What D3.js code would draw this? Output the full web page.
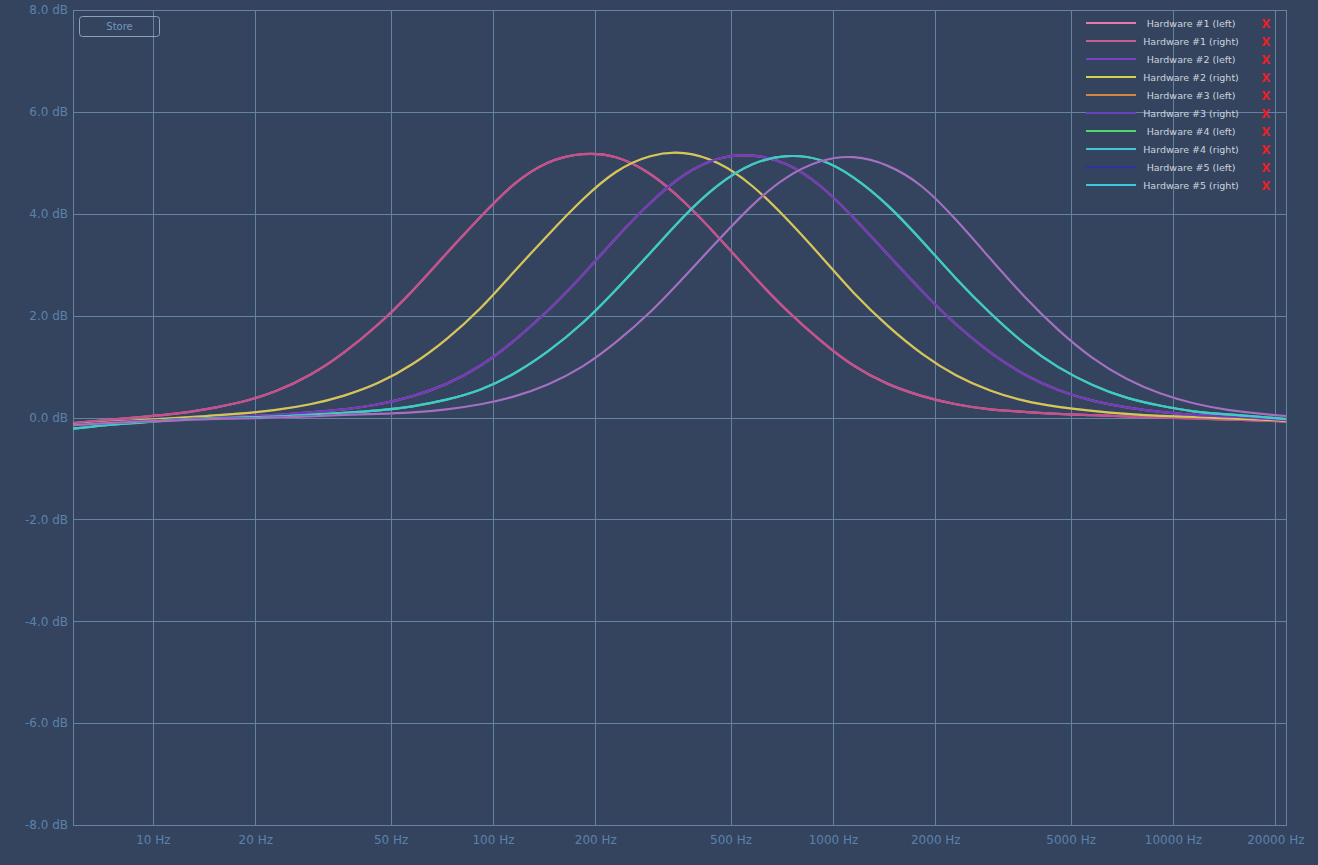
<!DOCTYPE html>
<html><head><meta charset="utf-8">
<script src="https://cdn.jsdelivr.net/npm/d3@7"></script>
<style>
html,body{margin:0;padding:0;background:#34445e;}
svg{display:block;}
</style></head>
<body>
<svg id="chart" width="1318" height="865"></svg>
<script>
// ---- data ----
const freqs = [5.82, 7.3, 9.2, 11.5, 14.5, 18.3, 23, 29, 36.5, 46, 58, 73, 92, 115, 145, 183, 230, 290, 365, 460, 580, 730, 920, 1150, 1450, 1830, 2300, 2900, 3650, 4600, 5800, 7300, 9200, 11500, 14500, 18300, 21495];
const hw1 = [-0.11, -0.05, 0.01, 0.07, 0.17, 0.31, 0.52, 0.84, 1.28, 1.83, 2.49, 3.22, 3.94, 4.57, 5.0, 5.17, 5.11, 4.78, 4.23, 3.54, 2.8, 2.11, 1.51, 1.02, 0.66, 0.42, 0.26, 0.16, 0.11, 0.07, 0.045, 0.02, 0.0, -0.02, -0.04, -0.06, -0.08];
const hw2 = [-0.14, -0.09, -0.05, -0.01, 0.03, 0.08, 0.15, 0.26, 0.43, 0.68, 1.05, 1.54, 2.15, 2.85, 3.58, 4.27, 4.82, 5.13, 5.19, 4.99, 4.54, 3.9, 3.17, 2.45, 1.8, 1.25, 0.83, 0.53, 0.33, 0.21, 0.13, 0.07, 0.03, 0.01, -0.02, -0.04, -0.07];
const hw3 = [-0.15, -0.1, -0.07, -0.04, -0.01, 0.02, 0.05, 0.1, 0.16, 0.26, 0.42, 0.66, 1.02, 1.5, 2.1, 2.79, 3.52, 4.21, 4.76, 5.08, 5.14, 4.97, 4.54, 3.92, 3.2, 2.48, 1.83, 1.28, 0.85, 0.54, 0.33, 0.2, 0.11, 0.05, 0.02, -0.02, -0.05];
const hw4 = [-0.22, -0.15, -0.1, -0.05, -0.02, 0.0, 0.02, 0.05, 0.09, 0.14, 0.22, 0.35, 0.55, 0.86, 1.3, 1.85, 2.51, 3.23, 3.95, 4.56, 4.97, 5.13, 5.05, 4.71, 4.16, 3.46, 2.73, 2.05, 1.46, 0.99, 0.64, 0.39, 0.23, 0.12, 0.06, 0.01, -0.03];
const hw5 = [-0.15, -0.11, -0.08, -0.06, -0.03, -0.02, 0.0, 0.02, 0.05, 0.07, 0.1, 0.16, 0.26, 0.41, 0.65, 1.0, 1.48, 2.07, 2.76, 3.48, 4.17, 4.71, 5.03, 5.11, 4.94, 4.53, 3.88, 3.12, 2.38, 1.72, 1.17, 0.76, 0.47, 0.28, 0.15, 0.07, 0.03];

const legendLabels = ["Hardware #1 (left)", "Hardware #1 (right)", "Hardware #2 (left)", "Hardware #2 (right)", "Hardware #3 (left)", "Hardware #3 (right)", "Hardware #4 (left)", "Hardware #4 (right)", "Hardware #5 (left)", "Hardware #5 (right)"];
const legendColors = ["#e87aa8", "#c8608c", "#7a40c8", "#d8d050", "#d08840", "#6a40c0", "#50d870", "#40c8d8", "#3030a0", "#40c8e0"];
const seriesData = [hw1, hw1, hw2, hw2, hw3, hw3, hw4, hw4, hw5, hw5];
const curveColors = ["#e07aa8", "#c4508c", "#7a40c8", "#d2ca4c", "#d08840", "#7038c8", "#50d870", "#40c8cc", "#3030a0", "#a472b6"];

const xTicks = [10, 20, 50, 100, 200, 500, 1000, 2000, 5000, 10000, 20000];
const xTickLabels = ["10 Hz", "20 Hz", "50 Hz", "100 Hz", "200 Hz", "500 Hz", "1000 Hz", "2000 Hz", "5000 Hz", "10000 Hz", "20000 Hz"];
const yTicks = [-8, -6, -4, -2, 0, 2, 4, 6, 8];
const yTickLabels = ["-8.0 dB", "-6.0 dB", "-4.0 dB", "-2.0 dB", "0.0 dB", "2.0 dB", "4.0 dB", "6.0 dB", "8.0 dB"];
const freqDomain = [5.82, 21495];
const dbDomain = [-8, 8];

// ---- layout ----
const svg = d3.select("#chart");
const L = 73, R = 1286, T = 10, B = 825;
const gridColor = "#6483a4";
const labelColor = "#5b82ad";
const fontFam = "'DejaVu Sans', sans-serif";

const x = d3.scaleLog().domain(freqDomain).range([L, R]);
const y = d3.scaleLinear().domain(dbDomain).range([B, T]);

svg.append("rect").attr("width", 1318).attr("height", 865).attr("fill", "#34445e");

const xAxis = d3.axisBottom(x).tickValues(xTicks)
  .tickFormat((d, i) => xTickLabels[i]).tickSize(-(B - T)).tickPadding(10);
const gx = svg.append("g").attr("transform", `translate(0,${B})`).call(xAxis);
gx.select(".domain").remove();
gx.selectAll("line").attr("stroke", gridColor).attr("stroke-width", 1).attr("shape-rendering", "crispEdges");
gx.selectAll("text").attr("fill", labelColor).style("font-family", fontFam).style("font-size", "12px");

const yAxis = d3.axisLeft(y).tickValues(yTicks)
  .tickFormat((d, i) => yTickLabels[i]).tickSize(-(R - L)).tickPadding(5);
const gy = svg.append("g").attr("transform", `translate(${L},0)`).call(yAxis);
gy.select(".domain").remove();
gy.selectAll("line").attr("stroke", gridColor).attr("stroke-width", 1).attr("shape-rendering", "crispEdges");
gy.selectAll("text").attr("fill", labelColor).style("font-family", fontFam).style("font-size", "12px");

svg.append("rect").attr("x", L).attr("y", T).attr("width", R - L).attr("height", B - T)
  .attr("fill", "none").attr("stroke", gridColor).attr("stroke-width", 1).attr("shape-rendering", "crispEdges");

// curves
const line = d3.line().x((d, i) => x(freqs[i])).y(d => y(d)).curve(d3.curveNatural);
const curvesG = svg.append("g");
seriesData.forEach((s, k) => {
  curvesG.append("path").attr("d", line(s)).attr("fill", "none")
    .attr("stroke", curveColors[k]).attr("stroke-width", 2.2).attr("stroke-linejoin", "round");
});

// store button
svg.append("rect").attr("x", 79.5).attr("y", 16.5).attr("width", 80).attr("height", 20).attr("rx", 3)
  .attr("fill", "none").attr("stroke", "#8aa2be").attr("stroke-width", 1);
svg.append("text").attr("x", 119.5).attr("y", 30).attr("text-anchor", "middle")
  .attr("fill", "#7197be").style("font-family", fontFam).style("font-size", "10px").text("Store");

// legend
const lg = svg.append("g");
legendLabels.forEach((lab, i) => {
  const yy = 23 + i * 18;
  lg.append("line").attr("x1", 1086).attr("x2", 1136).attr("y1", yy).attr("y2", yy)
    .attr("stroke", legendColors[i]).attr("stroke-width", 2);
  lg.append("text").attr("x", 1191).attr("y", yy + 3.5).attr("text-anchor", "middle")
    .attr("fill", "#cdd4de").style("font-family", fontFam).style("font-size", "9.5px").text(lab);
  lg.append("text").attr("x", 1266).attr("y", yy + 4.5).attr("text-anchor", "middle")
    .attr("fill", "#e8202a").style("font-family", fontFam).style("font-size", "12px").style("font-weight", "bold").text("X");
});
</script>
</body></html>
